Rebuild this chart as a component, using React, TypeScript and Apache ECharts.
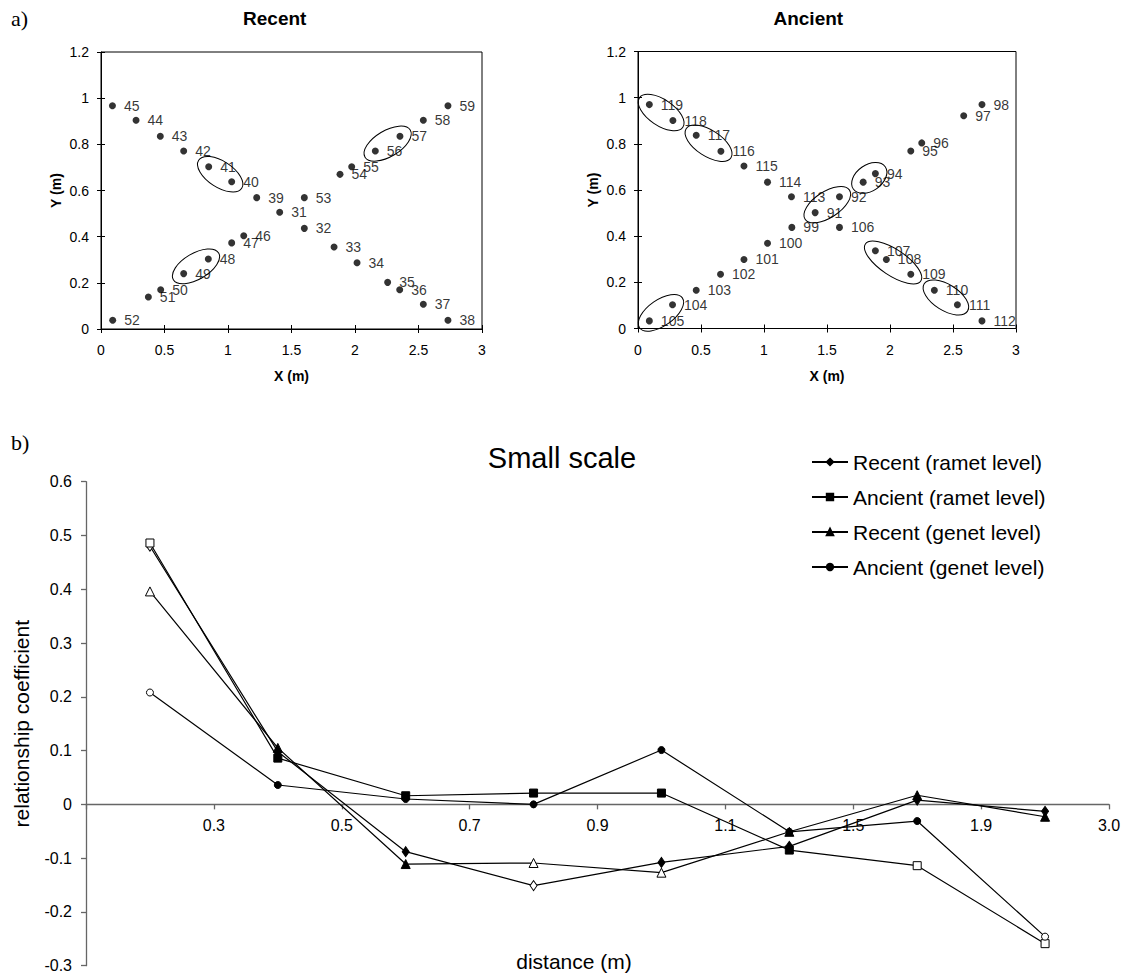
import React, { useEffect, useRef } from 'react';
import * as echarts from 'echarts';

// ---------- a) stem positions along the two crossing transects ----------
const recentIds = ['45', '44', '43', '42', '41', '40', '39', '53', '31', '32', '33', '34', '35', '36', '37', '38', '46', '47', '48', '49', '50', '51', '52', '54', '55', '56', '57', '58', '59'];
const recentX = [0.09, 0.276, 0.467, 0.651, 0.848, 1.029, 1.226, 1.601, 1.407, 1.601, 1.835, 2.016, 2.257, 2.352, 2.538, 2.732, 1.124, 1.029, 0.845, 0.651, 0.47, 0.373, 0.092, 1.882, 1.974, 2.16, 2.354, 2.538, 2.732];
const recentY = [0.967, 0.904, 0.835, 0.771, 0.703, 0.638, 0.569, 0.569, 0.506, 0.436, 0.355, 0.287, 0.202, 0.17, 0.107, 0.038, 0.404, 0.373, 0.303, 0.24, 0.17, 0.139, 0.038, 0.67, 0.703, 0.771, 0.835, 0.904, 0.967];
// stems sharing one genet (circled)
const recentGenets = [['41', '40'], ['49', '48'], ['56', '57']];

const ancientIds = ['119', '118', '117', '116', '115', '114', '113', '92', '91', '99', '106', '100', '101', '102', '103', '104', '105', '93', '94', '95', '96', '97', '98', '107', '108', '109', '110', '111', '112'];
const ancientX = [0.09, 0.277, 0.462, 0.658, 0.841, 1.028, 1.218, 1.599, 1.406, 1.221, 1.599, 1.028, 0.841, 0.655, 0.462, 0.274, 0.09, 1.787, 1.884, 2.165, 2.252, 2.585, 2.73, 1.884, 1.971, 2.165, 2.352, 2.535, 2.73];
const ancientY = [0.97, 0.901, 0.837, 0.768, 0.704, 0.634, 0.571, 0.571, 0.502, 0.438, 0.438, 0.369, 0.299, 0.235, 0.166, 0.103, 0.033, 0.634, 0.671, 0.769, 0.804, 0.922, 0.97, 0.337, 0.299, 0.235, 0.166, 0.103, 0.033];
const ancientGenets = [['119', '118'], ['117', '116'], ['91', '92'], ['93', '94'], ['107', '108', '109'], ['110', '111'], ['105', '104']];

const xTicks = { min: 0, max: 3, interval: 0.5 };
const yTicks = { min: 0, max: 1.2, interval: 0.2 };

// ---------- b) relationship coefficient by distance class ----------
const distanceClasses = ['0.3', '0.5', '0.7', '0.9', '1.1', '1.5', '1.9', '3.0'];
const recentRamet = [0.48, 0.098, -0.088, -0.151, -0.108, -0.078, 0.008, -0.013];
const ancientRamet = [0.486, 0.086, 0.016, 0.021, 0.021, -0.085, -0.114, -0.259];
const recentGenet = [0.396, 0.105, -0.111, -0.109, -0.127, -0.051, 0.017, -0.023];
const ancientGenet = [0.208, 0.036, 0.01, 0.0, 0.101, -0.051, -0.031, -0.246];
// open markers flag the significant coefficients
const recentRametOpen = [1, 0, 0, 1, 0, 0, 0, 0];
const ancientRametOpen = [1, 0, 0, 0, 0, 0, 1, 1];
const recentGenetOpen = [1, 0, 0, 1, 1, 0, 0, 0];
const ancientGenetOpen = [1, 0, 0, 0, 0, 0, 0, 1];
const seriesNames = ['Recent (ramet level)', 'Ancient (ramet level)', 'Recent (genet level)', 'Ancient (genet level)'];
const coefRange = { min: -0.3, max: 0.6, interval: 0.1 };

const SANS = '"Liberation Sans", Arial, Helvetica, sans-serif';
const SERIF = '"Liberation Serif", "Times New Roman", serif';
const INK = '#000';
const AXIS_GREY = '#666';

// plot box of the bottom panel
const lowerGrid = { left: 86, top: 481.7, width: 1023, height: 484 };
// distance of the zero line above the bottom edge of that box
const zeroLift = (lowerGrid.height * (0 - coefRange.min)) / (coefRange.max - coefRange.min);

function pointData(ids: string[], xs: number[], ys: number[]) {
  return ids.map((id, i) => ({ name: id, value: [xs[i], ys[i]] }));
}

function genetData(groups: string[][], ids: string[], xs: number[], ys: number[]) {
  return groups.map((g) => {
    const a = ids.indexOf(g[0]);
    const b = ids.indexOf(g[g.length - 1]);
    return [xs[a], ys[a], xs[b], ys[b]];
  });
}

// an ellipse drawn around the first and last stem of a genet
function renderGenet(_params: any, api: any) {
  const p1 = api.coord([api.value(0), api.value(1)]);
  const p2 = api.coord([api.value(2), api.value(3)]);
  const dx = p2[0] - p1[0];
  const dy = p2[1] - p1[1];
  const len = Math.sqrt(dx * dx + dy * dy);
  return {
    type: 'ellipse',
    x: (p1[0] + p2[0]) / 2,
    y: (p1[1] + p2[1]) / 2,
    rotation: Math.atan2(-dy, dx),
    shape: { cx: 0, cy: 0, rx: len / 2 + 12, ry: 13 },
    style: { fill: 'none', stroke: INK, lineWidth: 1 },
  };
}

function mapAxis(grid: number, ticks: any, dim: 'x' | 'y', name: string) {
  const main = {
    gridIndex: grid,
    type: 'value',
    position: dim === 'x' ? 'bottom' : 'left',
    ...ticks,
    name,
    nameLocation: 'middle',
    nameGap: dim === 'x' ? 40 : 38,
    nameTextStyle: { fontFamily: SANS, fontWeight: 'bold', fontSize: 14, color: INK },
    axisLine: { show: true, onZero: false, lineStyle: { color: INK, width: 1 } },
    axisTick: { show: true, inside: false, length: 4, lineStyle: { color: INK } },
    axisLabel: { fontFamily: SANS, fontSize: 14, color: INK, margin: dim === 'x' ? 14 : 12 },
    splitLine: { show: false },
  };
  // second half of the crossing tick marks
  const cross = {
    gridIndex: grid,
    type: 'value',
    position: dim === 'x' ? 'bottom' : 'left',
    ...ticks,
    axisLine: { show: false, onZero: false },
    axisTick: { show: true, inside: true, length: 4, lineStyle: { color: INK } },
    axisLabel: { show: false },
    splitLine: { show: false },
  };
  return [main, cross];
}

function lineSeries(name: string, values: number[], open: number[], symbol: string, size: any) {
  return {
    name,
    type: 'line',
    xAxisIndex: 4,
    yAxisIndex: 4,
    symbol,
    symbolSize: size,
    showAllSymbol: true,
    lineStyle: { color: INK, width: 1.2 },
    itemStyle: { color: INK, borderColor: INK, borderWidth: 1 },
    emphasis: { disabled: true },
    data: values.map((v, i) =>
      open[i] ? { value: v, itemStyle: { color: '#fff', borderColor: INK, borderWidth: 1 } } : { value: v }
    ),
  };
}

export default function App() {
  const ref = useRef<HTMLDivElement>(null);

  useEffect(() => {
    if (!ref.current) return;
    const chart = echarts.init(ref.current, undefined, { renderer: 'svg' });

    const scatterLabel = {
      show: true,
      position: 'right',
      distance: 8,
      formatter: '{b}',
      fontFamily: SANS,
      fontSize: 14,
      color: INK,
    };

    const option: any = {
      animation: false,
      backgroundColor: '#fff',
      textStyle: { fontFamily: SANS, color: INK },
      grid: [
        { left: 101, top: 52, width: 381, height: 277, show: true, borderColor: INK, borderWidth: 1, backgroundColor: 'transparent', outerBoundsMode: 'none' },
        { left: 638, top: 51.5, width: 378, height: 277, show: true, borderColor: INK, borderWidth: 1, backgroundColor: 'transparent', outerBoundsMode: 'none' },
        { ...lowerGrid, show: false, outerBoundsMode: 'none' },
      ],
      xAxis: [
        ...mapAxis(0, xTicks, 'x', 'X (m)'),
        ...mapAxis(1, xTicks, 'x', 'X (m)'),
        {
          gridIndex: 2,
          type: 'category',
          position: 'bottom',
          data: distanceClasses,
          boundaryGap: true,
          axisLine: { show: true, onZero: true, lineStyle: { color: AXIS_GREY, width: 1.3 } },
          axisTick: { show: true, inside: false, alignWithLabel: false, interval: 0, length: 5, lineStyle: { color: AXIS_GREY, width: 1.3 } },
          axisLabel: { show: false },
          splitLine: { show: false },
        },
        {
          // each class is labelled by its upper bound, at the class's right edge
          gridIndex: 2,
          type: 'value',
          position: 'bottom',
          min: 0,
          max: distanceClasses.length,
          interval: 1,
          offset: -zeroLift,
          axisLine: { show: false, onZero: false },
          axisTick: { show: false },
          splitLine: { show: false },
          axisLabel: {
            fontFamily: SANS,
            fontSize: 16,
            color: INK,
            margin: 13,
            showMinLabel: true,
            showMaxLabel: true,
            formatter: (v: number) => (v >= 1 ? distanceClasses[Math.round(v) - 1] : ''),
          },
        },
      ],
      yAxis: [
        ...mapAxis(0, yTicks, 'y', 'Y (m)'),
        ...mapAxis(1, yTicks, 'y', 'Y (m)'),
        {
          gridIndex: 2,
          type: 'value',
          position: 'left',
          ...coefRange,
          name: 'relationship coefficient',
          nameLocation: 'middle',
          nameGap: 54,
          nameTextStyle: { fontFamily: SANS, fontSize: 21, color: INK },
          axisLine: { show: true, onZero: false, lineStyle: { color: AXIS_GREY, width: 1.3 } },
          axisTick: { show: true, inside: false, length: 5, lineStyle: { color: AXIS_GREY, width: 1.3 } },
          axisLabel: {
            fontFamily: SANS,
            fontSize: 16,
            color: INK,
            margin: 14,
            formatter: (v: number) => (Math.abs(v) < 1e-9 ? '0' : v.toFixed(1)),
          },
          splitLine: { show: false },
        },
      ],
      legend: {
        orient: 'vertical',
        left: 806,
        top: 446.5,
        itemWidth: 36,
        itemHeight: 8,
        itemGap: 14,
        selectedMode: false,
        data: seriesNames,
        textStyle: { fontFamily: SANS, fontSize: 21, lineHeight: 21, color: INK },
      },
      graphic: [
        { type: 'text', x: 11, y: 18, style: { text: 'a)', font: `22px ${SERIF}`, fill: INK, align: 'left', verticalAlign: 'middle' } },
        { type: 'text', x: 11, y: 442, style: { text: 'b)', font: `22px ${SERIF}`, fill: INK, align: 'left', verticalAlign: 'middle' } },
        { type: 'text', x: 274.7, y: 18, style: { text: 'Recent', font: `bold 19px ${SANS}`, fill: INK, align: 'center', verticalAlign: 'middle' } },
        { type: 'text', x: 808.3, y: 18, style: { text: 'Ancient', font: `bold 19px ${SANS}`, fill: INK, align: 'center', verticalAlign: 'middle' } },
        { type: 'text', x: 562, y: 458, style: { text: 'Small scale', font: `29px ${SANS}`, fill: INK, align: 'center', verticalAlign: 'middle' } },
        { type: 'text', x: 574, y: 961, style: { text: 'distance (m)', font: `21px ${SANS}`, fill: INK, align: 'center', verticalAlign: 'middle' } },
      ],
      series: [
        {
          type: 'scatter',
          xAxisIndex: 0,
          yAxisIndex: 0,
          symbol: 'circle',
          symbolSize: 7,
          itemStyle: { color: INK },
          label: scatterLabel,
          emphasis: { disabled: true },
          data: pointData(recentIds, recentX, recentY),
        },
        {
          type: 'custom',
          xAxisIndex: 0,
          yAxisIndex: 0,
          silent: true,
          clip: false,
          renderItem: renderGenet,
          encode: { x: [0, 2], y: [1, 3] },
          data: genetData(recentGenets, recentIds, recentX, recentY),
        },
        {
          type: 'scatter',
          xAxisIndex: 2,
          yAxisIndex: 2,
          symbol: 'circle',
          symbolSize: 7,
          itemStyle: { color: INK },
          label: scatterLabel,
          emphasis: { disabled: true },
          data: pointData(ancientIds, ancientX, ancientY),
        },
        {
          type: 'custom',
          xAxisIndex: 2,
          yAxisIndex: 2,
          silent: true,
          clip: false,
          renderItem: renderGenet,
          encode: { x: [0, 2], y: [1, 3] },
          data: genetData(ancientGenets, ancientIds, ancientX, ancientY),
        },
        lineSeries(seriesNames[0], recentRamet, recentRametOpen, 'diamond', [7, 10]),
        lineSeries(seriesNames[1], ancientRamet, ancientRametOpen, 'rect', 8),
        lineSeries(seriesNames[2], recentGenet, recentGenetOpen, 'triangle', 9),
        lineSeries(seriesNames[3], ancientGenet, ancientGenetOpen, 'circle', 7),
      ],
    };

    chart.setOption(option);
    return () => chart.dispose();
  }, []);

  return (
    <div
      ref={ref}
      style={{ position: 'fixed', left: 0, top: 0, width: 1122, height: 974, background: '#fff' }}
    />
  );
}
